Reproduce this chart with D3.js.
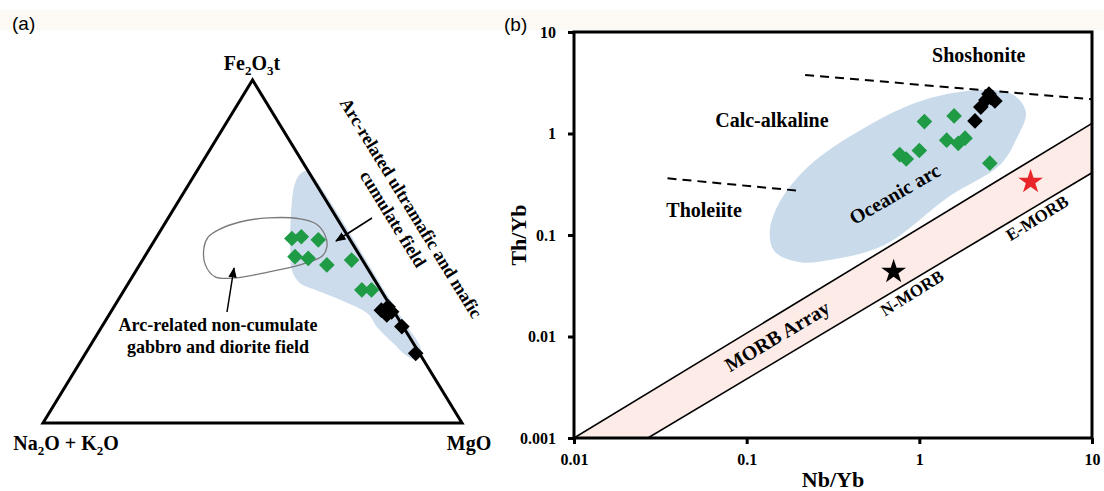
<!DOCTYPE html>
<html>
<head>
<meta charset="utf-8">
<script src="https://cdn.jsdelivr.net/npm/d3@7"></script>
<style>
  body { margin: 0; background: #fff; }
  text { font-family: "Liberation Serif", "Times New Roman", serif; font-weight: bold; }
  .panel-tag { font-family: "Liberation Sans", Arial, sans-serif; font-weight: normal; }
</style>
</head>
<body>
<svg id="chart" width="1104" height="491"></svg>
<script>
// ---------- panel (a) ternary data: [Fe2O3t, MgO] (Na2O+K2O = rest) ----------
var greenTern = [[0.538,0.325],[0.543,0.345],[0.534,0.390],[0.485,0.359],[0.480,0.393],
                 [0.461,0.447],[0.475,0.499],[0.388,0.567],[0.388,0.590]];
var blackTern = [[0.329,0.643],[0.339,0.654],[0.324,0.670],[0.315,0.663],[0.281,0.716],[0.203,0.788]];
// arc-related ultramafic and mafic cumulate field (blue)
var cumulateField = [[0.735,0.260],[0.720,0.284],[0.650,0.358],[0.534,0.475],[0.417,0.591],
                     [0.300,0.709],[0.213,0.796],[0.184,0.803],[0.195,0.771],[0.233,0.719],
                     [0.280,0.657],[0.318,0.617],[0.356,0.538],[0.385,0.464],[0.408,0.409],
                     [0.446,0.371],[0.534,0.323],[0.621,0.282],[0.691,0.254],[0.723,0.250]];
// arc-related non-cumulate gabbro and diorite field (outline)
var nonCumulateField = [[0.510,0.129],[0.542,0.123],[0.563,0.137],[0.586,0.177],[0.598,0.238],
                        [0.595,0.316],[0.580,0.362],[0.548,0.399],[0.513,0.421],[0.487,0.423],
                        [0.461,0.383],[0.440,0.317],[0.423,0.247],[0.426,0.198],[0.461,0.157]];
var corners = [[1,0],[0,0],[0,1]];

// ---------- panel (b) Th/Yb vs Nb/Yb data: [Nb/Yb, Th/Yb] ----------
var greenNbTh = [[1.07,1.31],[1.59,1.49],[0.77,0.62],[0.84,0.56],[1.00,0.68],
                 [1.44,0.86],[1.68,0.80],[1.84,0.90],[2.56,0.51]];
var blackNbTh = [[2.10,1.33],[2.27,1.82],[2.43,2.14],[2.53,2.45],[2.74,2.09],[2.60,2.25]];
var nMorb = [0.71, 0.0435];
var eMorb = [4.41, 0.335];
var morbUpper = [[0.01,0.001],[10,1.26]];
var morbLower = [[0.0268,0.001],[10,0.41]];
var dashUpper = [[0.218,3.77],[10,2.17]];
var dashLower = [[0.0348,0.362],[0.20,0.273]];
var oceanicArc = [[0.136,0.105],[0.152,0.198],[0.226,0.468],[0.49,1.16],[1.06,2.14],
                  [2.30,2.68],[3.44,2.45],[4.14,1.63],[3.62,0.86],[2.93,0.49],
                  [1.50,0.242],[0.63,0.080],[0.31,0.057],[0.204,0.054],[0.146,0.068]];
var xTicks = [0.01, 0.1, 1, 10];
var yTicks = [0.001, 0.01, 0.1, 1, 10];

var svg = d3.select("#chart");

// faint scan tint at top
svg.append("rect").attr("x", 0).attr("y", 10).attr("width", 1104).attr("height", 20)
  .attr("fill", "#fdf9f4");

// ================= panel (a) =================
var xT = d3.scaleLinear().domain([0, 1]).range([43, 462]);
var yT = d3.scaleLinear().domain([0, 1]).range([423, 80]);
function tern(d) { return [xT(d[1] + d[0] / 2), yT(d[0])]; }

var ga = svg.append("g");

ga.append("path")
  .attr("d", d3.line().curve(d3.curveCatmullRomClosed)(cumulateField.map(tern)))
  .attr("fill", "#cddcec");

ga.append("path")
  .attr("d", d3.line().curve(d3.curveCatmullRomClosed)(nonCumulateField.map(tern)))
  .attr("fill", "none").attr("stroke", "#7a7a7a").attr("stroke-width", 1.3);

ga.append("path")
  .attr("d", d3.line()(corners.map(tern)) + "Z")
  .attr("fill", "none").attr("stroke", "#000").attr("stroke-width", 3)
  .attr("stroke-linejoin", "miter");

var diamond = d3.symbol().type(d3.symbolSquare).size(122);

ga.selectAll(".ga").data(greenTern).enter().append("path")
  .attr("d", diamond)
  .attr("transform", d => { var p = tern(d); return "translate(" + p[0] + "," + p[1] + ") rotate(45)"; })
  .attr("fill", "#1f9a45");
ga.selectAll(".ba").data(blackTern).enter().append("path")
  .attr("d", diamond)
  .attr("transform", d => { var p = tern(d); return "translate(" + p[0] + "," + p[1] + ") rotate(45)"; })
  .attr("fill", "#000");

// arrows
var defs = svg.append("defs");
defs.append("marker").attr("id", "ah").attr("viewBox", "0 0 10 10")
  .attr("refX", 9).attr("refY", 5).attr("markerWidth", 7).attr("markerHeight", 7)
  .attr("orient", "auto")
  .append("path").attr("d", "M0,1 L10,5 L0,9 Z").attr("fill", "#000");

ga.append("line").attr("x1", 227).attr("y1", 312).attr("x2", 234).attr("y2", 268)
  .attr("stroke", "#000").attr("stroke-width", 1.5).attr("marker-end", "url(#ah)");
ga.append("line").attr("x1", 372).attr("y1", 218).attr("x2", 336).attr("y2", 241)
  .attr("stroke", "#000").attr("stroke-width", 1.5).attr("marker-end", "url(#ah)");

// labels
ga.append("text").attr("x", 218).attr("y", 331).attr("text-anchor", "middle")
  .attr("font-size", 18).text("Arc-related non-cumulate");
ga.append("text").attr("x", 218).attr("y", 353).attr("text-anchor", "middle")
  .attr("font-size", 18).text("gabbro and diorite field");

var rt = ga.append("g").attr("transform", "translate(411,208) rotate(58.4)");
rt.append("text").attr("x", 0).attr("y", 6).attr("text-anchor", "middle")
  .attr("font-size", 18).text("Arc-related ultramafic and mafic");
rt.append("text").attr("x", 0).attr("y", 27).attr("text-anchor", "middle")
  .attr("font-size", 18).text("cumulate field");

function subLabel(g, x, y, parts, anchor) {
  var t = g.append("text").attr("x", x).attr("y", y).attr("text-anchor", anchor).attr("font-size", 20);
  parts.forEach(p => {
    if (p[1]) t.append("tspan").attr("font-size", 13).attr("dy", 5).text(p[0]);
    else t.append("tspan").attr("dy", p[2] ? -5 : 0).text(p[0]);
  });
}
subLabel(ga, 252, 70, [["Fe"], ["2", 1], ["O", 0, 1], ["3", 1], ["t", 0, 1]], "middle");
subLabel(ga, 66, 450, [["Na"], ["2", 1], ["O + K", 0, 1], ["2", 1], ["O", 0, 1]], "middle");
ga.append("text").attr("x", 469).attr("y", 450).attr("text-anchor", "middle")
  .attr("font-size", 20).text("MgO");

svg.append("text").attr("class", "panel-tag").attr("x", 12).attr("y", 30)
  .attr("font-size", 19).text("(a)");

// ================= panel (b) =================
var x = d3.scaleLog().domain([0.01, 10]).range([574, 1092]);
var y = d3.scaleLog().domain([0.001, 10]).range([438, 32]);
var line = d3.line().x(d => x(d[0])).y(d => y(d[1]));

var gb = svg.append("g");
defs.append("clipPath").attr("id", "plotclip").append("rect")
  .attr("x", x(0.01)).attr("y", y(10)).attr("width", x(10) - x(0.01)).attr("height", y(0.001) - y(10));

var inner = gb.append("g").attr("clip-path", "url(#plotclip)");

// MORB array band
var band = morbUpper.concat(morbLower.slice().reverse());
inner.append("path").attr("d", line(band) + "Z").attr("fill", "#fcebe6");

inner.append("path")
  .attr("d", d3.line().x(d => x(d[0])).y(d => y(d[1])).curve(d3.curveCatmullRomClosed)(oceanicArc))
  .attr("fill", "#c9dbeb");

[morbUpper, morbLower].forEach(l => {
  inner.append("path").attr("d", line(l)).attr("fill", "none")
    .attr("stroke", "#000").attr("stroke-width", 1.6);
});
[dashUpper, dashLower].forEach(l => {
  inner.append("path").attr("d", line(l)).attr("fill", "none")
    .attr("stroke", "#000").attr("stroke-width", 2).attr("stroke-dasharray", "9,6");
});

inner.selectAll(".gb").data(greenNbTh).enter().append("path")
  .attr("d", diamond)
  .attr("transform", d => "translate(" + x(d[0]) + "," + y(d[1]) + ") rotate(45)")
  .attr("fill", "#1f9a45");
inner.selectAll(".bb").data(blackNbTh).enter().append("path")
  .attr("d", diamond)
  .attr("transform", d => "translate(" + x(d[0]) + "," + y(d[1]) + ") rotate(45)")
  .attr("fill", "#000");

var star = d3.symbol().type(d3.symbolStar).size(190);
inner.append("path").attr("d", star)
  .attr("transform", "translate(" + x(nMorb[0]) + "," + y(nMorb[1]) + ")").attr("fill", "#000");
inner.append("path").attr("d", star)
  .attr("transform", "translate(" + x(eMorb[0]) + "," + y(eMorb[1]) + ")").attr("fill", "#e8262a");

// region labels: [text, Nb/Yb, Th/Yb, angle, size]
var regionLabels = [["Shoshonite", 2.21, 5.93, 0, 20], ["Calc-alkaline", 0.14, 1.36, 0, 20],
                    ["Tholeiite", 0.0567, 0.176, 0, 20], ["Oceanic arc", 0.72, 0.254, -30, 20],
                    ["MORB Array", 0.15, 0.0101, -31, 20], ["N-MORB", 0.905, 0.0268, -32, 17],
                    ["E-MORB", 4.8, 0.147, -32, 17]];
gb.selectAll(".rl").data(regionLabels).enter().append("text")
  .attr("transform", d => "translate(" + x(d[1]) + "," + y(d[2]) + ") rotate(" + d[3] + ")")
  .attr("text-anchor", "middle").attr("dy", "0.35em")
  .attr("font-size", d => d[4]).text(d => d[0]);

// axes
var fmt = d => String(d);
var xAxis = gb.append("g").attr("transform", "translate(0," + y(0.001) + ")")
  .call(d3.axisBottom(x).tickValues(xTicks).tickFormat(fmt).tickSize(6).tickPadding(10));
var yAxis = gb.append("g").attr("transform", "translate(" + x(0.01) + ",0)")
  .call(d3.axisLeft(y).tickValues(yTicks).tickFormat(fmt).tickSize(6).tickPadding(12));
[xAxis, yAxis].forEach(a => {
  a.select(".domain").remove();
  a.selectAll(".tick line").attr("stroke-width", 3);
  a.selectAll(".tick text").attr("font-size", 16).attr("fill", "#000")
    .attr("font-family", "Liberation Serif, Times New Roman, serif").attr("font-weight", "bold");
});

gb.append("rect").attr("x", x(0.01)).attr("y", y(10))
  .attr("width", x(10) - x(0.01)).attr("height", y(0.001) - y(10))
  .attr("fill", "none").attr("stroke", "#000").attr("stroke-width", 3);

gb.append("text").attr("x", (x(0.01) + x(10)) / 2).attr("y", 487).attr("text-anchor", "middle")
  .attr("font-size", 22).text("Nb/Yb");
gb.append("text").attr("transform", "translate(526," + y(0.1) + ") rotate(-90)")
  .attr("text-anchor", "middle").attr("font-size", 22).text("Th/Yb");

svg.append("text").attr("class", "panel-tag").attr("x", 504).attr("y", 31)
  .attr("font-size", 19).text("(b)");
</script>
</body>
</html>
